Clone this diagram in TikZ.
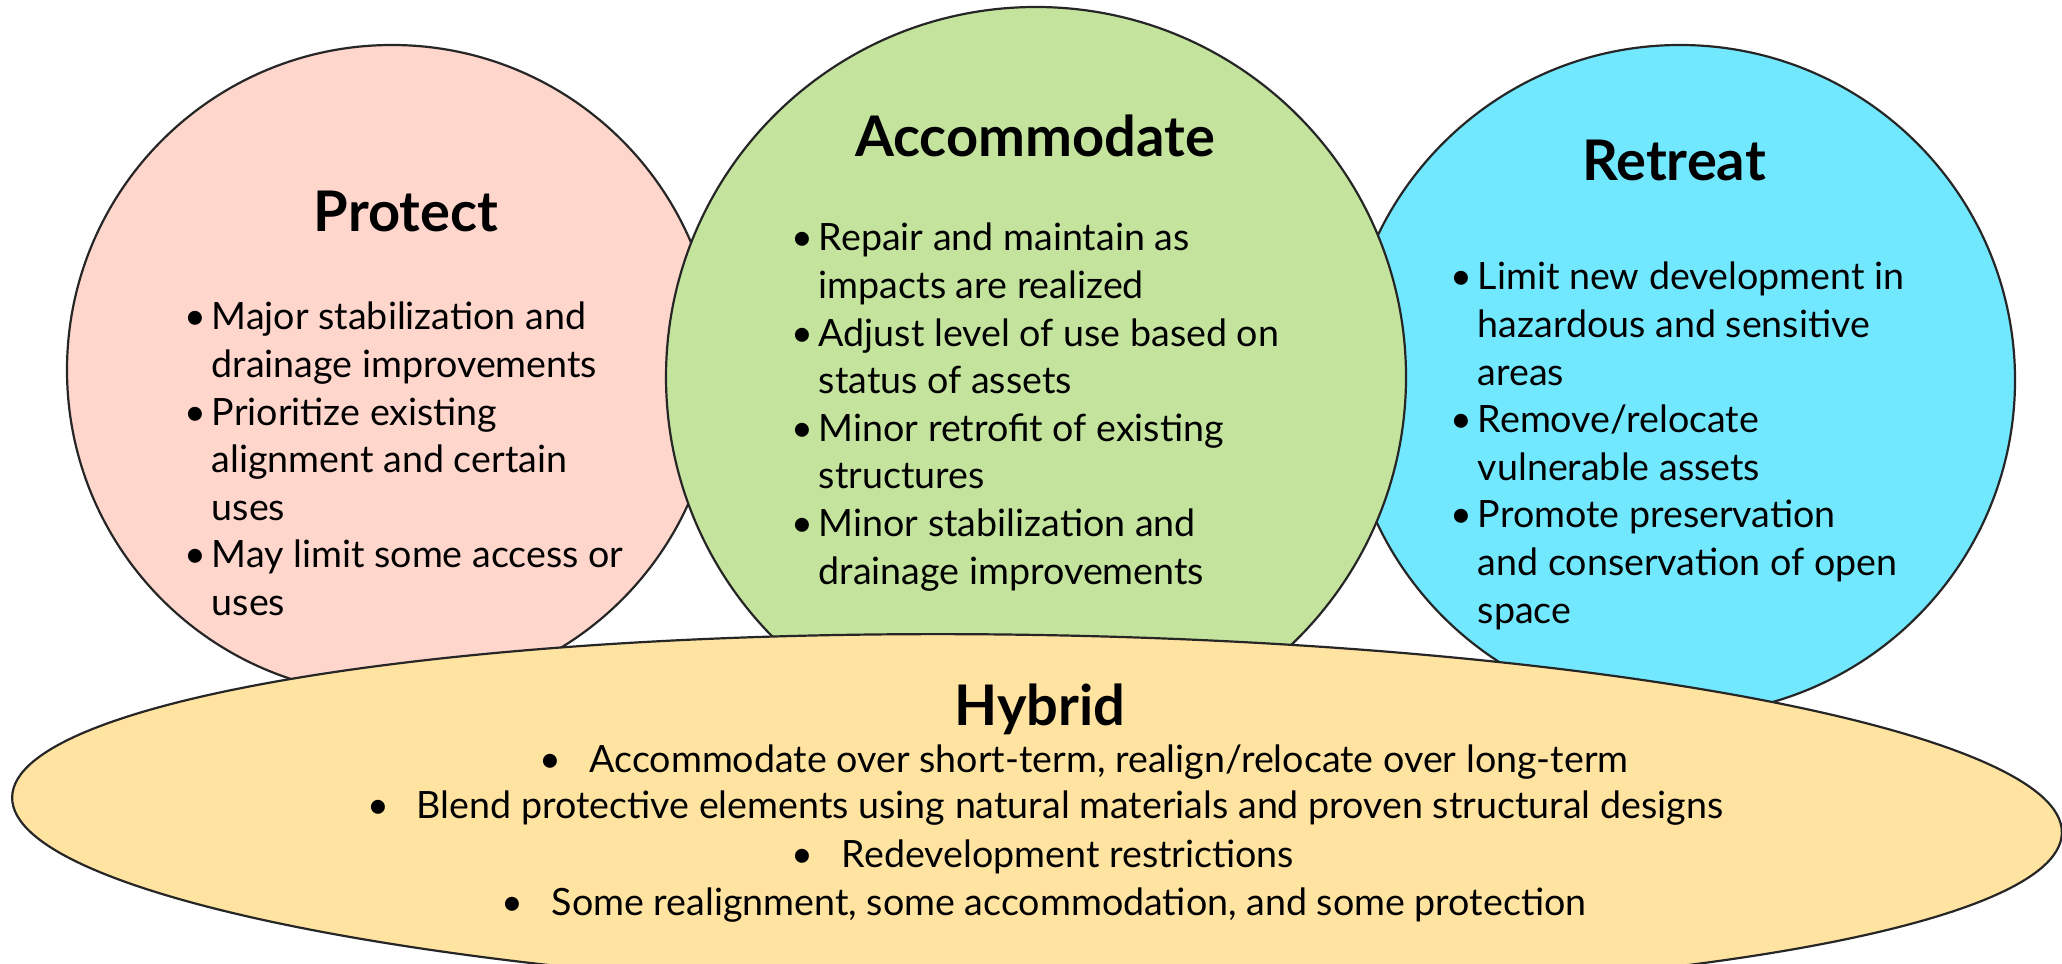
\documentclass[tikz,border=0pt]{standalone}
\usepackage{fontspec}
\setmainfont{Lato}
\definecolor{protectpink}{HTML}{FFD6CC}
\definecolor{accomgreen}{HTML}{C4E39D}
\definecolor{retreatblue}{HTML}{72E8FF}
\definecolor{hybridyellow}{HTML}{FFE3A1}
\newcommand{\bul}{\makebox[6.75pt][l]{\textbullet}}
\newcommand{\ind}{\hspace*{6.75pt}}
\newcommand{\hbul}{\makebox[12.5pt][l]{\textbullet}}
\begin{document}
\begin{tikzpicture}[x=0.25pt,y=0.25pt,
  zone/.style={draw=black!85, line width=0.55pt},
  title/.style={font=\fontsize{14}{17}\selectfont\bfseries, anchor=base, inner sep=0pt},
  body/.style={font=\fontsize{9.4}{11.9}\selectfont, anchor=base west, inner sep=0pt},
  hline/.style={font=\fontsize{9.4}{11.9}\selectfont, anchor=base, inner sep=0pt}]
\useasboundingbox (0,0) rectangle (2062,963);
% Drawing circles
% Circle 1: Protect
\filldraw[zone, fill=protectpink] (392,593) circle[radius=325];
% Circle 3: Retreat
\filldraw[zone, fill=retreatblue] (1680,583) circle[radius=335];
% Circle 2: Accommodate (on top of the other two)
\filldraw[zone, fill=accomgreen] (1036,586) circle[radius=370];
% Done with circles; drawing hybrid band
\filldraw[zone, fill=hybridyellow, rotate around={-1:(1037,148)}] (1037,148) ellipse[x radius=1025, y radius=180];
% Titles
\node[title] (protect) at (406,731) {Protect};
\node[title] (accommodate) at (1035,806) {Accommodate};
\node[title] (retreat) at (1674,782) {Retreat};
\node[title] (hybrid) at (1040,238) {Hybrid};
% Lists inside the circles
\node[body] (protect-list) at (184,633) {\begin{tabular}[t]{@{}l@{}}
\bul Major stabilization and\\
\ind drainage improvements\\
\bul Prioritize existing\\
\ind alignment and certain\\
\ind uses\\
\bul May limit some access or\\
\ind uses
\end{tabular}};
\node[body] (accommodate-list) at (791,712) {\begin{tabular}[t]{@{}l@{}}
\bul Repair and maintain as\\
\ind impacts are realized\\
\bul Adjust level of use based on\\
\ind status of assets\\
\bul Minor retrofit of existing\\
\ind structures\\
\bul Minor stabilization and\\
\ind drainage improvements
\end{tabular}};
\node[body] (retreat-list) at (1450,673) {\begin{tabular}[t]{@{}l@{}}
\bul Limit new development in\\
\ind hazardous and sensitive\\
\ind areas\\
\bul Remove/relocate\\
\ind vulnerable assets\\
\bul Promote preservation\\
\ind and conservation of open\\
\ind space
\end{tabular}};
% Hybrid lines, centred one by one
\node[hline] (hybrid-1) at (1084,191) {\hbul Accommodate over short-term, realign/relocate over long-term};
\node[hline] (hybrid-2) at (1045,145) {\hbul Blend protective elements using natural materials and proven structural designs};
\node[hline] (hybrid-3) at (1043,96) {\hbul Redevelopment restrictions};
\node[hline] (hybrid-4) at (1044,48) {\hbul Some realignment, some accommodation, and some protection};
\end{tikzpicture}
\end{document}
